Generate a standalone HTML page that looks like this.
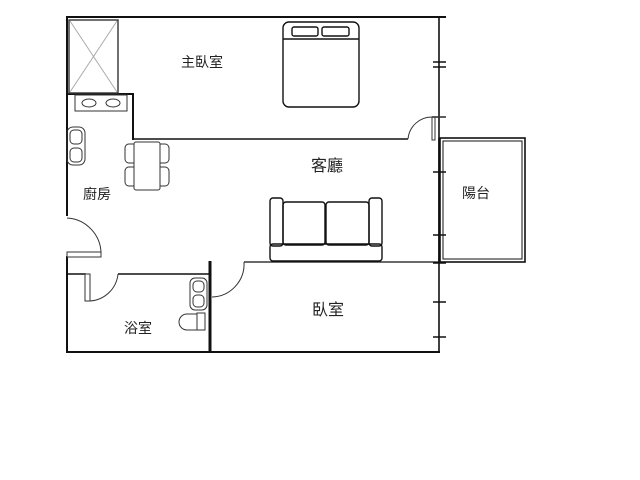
<!DOCTYPE html>
<html><head><meta charset="utf-8"><style>
html,body{margin:0;padding:0;background:#fff;width:640px;height:480px;overflow:hidden}
text{font-family:"Liberation Sans","Noto Sans CJK TC",sans-serif;fill:#222}
</style></head><body>
<svg width="640" height="480" viewBox="0 0 640 480" xmlns="http://www.w3.org/2000/svg">
<g fill="none" stroke="#111" stroke-width="2">
<!-- outer walls -->
<line x1="66" y1="17" x2="446" y2="17"/>
<line x1="67" y1="17" x2="67" y2="216"/>
<line x1="67" y1="256" x2="67" y2="353"/>
<line x1="66" y1="352" x2="440" y2="352"/>
<line x1="439" y1="17" x2="439" y2="352" stroke-width="1.6"/>
<line x1="439" y1="138" x2="439" y2="263" stroke-width="1.6"/>
<!-- master bedroom walls -->
<line x1="67" y1="94" x2="134" y2="94"/>
<line x1="133" y1="94" x2="133" y2="140"/>
<line x1="133" y1="139" x2="408" y2="139" stroke-width="1.4"/>
<!-- bathroom -->
<line x1="67" y1="274" x2="86" y2="274" stroke-width="1.4"/>
<line x1="118" y1="274" x2="210" y2="274" stroke-width="1.4"/>
<line x1="210" y1="261" x2="210" y2="352" stroke-width="3"/>
<line x1="244" y1="262" x2="439" y2="262" stroke-width="1.2"/>
<!-- balcony -->
<rect x="440" y="138" width="85" height="124" stroke-width="1.6"/>
<rect x="443" y="141" width="79" height="118" stroke-width="1"/>
</g>
<g fill="none" stroke="#333" stroke-width="1">
<!-- doors -->
<rect x="67" y="252" width="34" height="5" fill="#fff"/>
<path d="M101 255 A36 36 0 0 0 67 218"/>
<rect x="85" y="274" width="5" height="27" fill="#fff"/>
<path d="M90 301 A30 30 0 0 0 118 274"/>
<path d="M212 297 A33 33 0 0 0 244 262"/>
<rect x="432" y="117" width="3" height="23" fill="#fff"/>
<path d="M408 139 A24 24 0 0 1 432 117"/>
<line x1="432" y1="117" x2="446" y2="117" stroke-width="1.6"/>
<!-- ticks on right wall -->
<g stroke="#111" stroke-width="1.5">
<line x1="433" y1="62" x2="446" y2="62"/><line x1="433" y1="67" x2="446" y2="67"/>
<line x1="433" y1="172" x2="446" y2="172"/><line x1="433" y1="235" x2="446" y2="235"/>
<line x1="433" y1="263" x2="446" y2="263"/><line x1="433" y1="302" x2="446" y2="302"/>
<line x1="433" y1="337" x2="446" y2="337"/>
</g>
<!-- kitchen cupboard -->
<rect x="69" y="20" width="49" height="73" stroke-width="1.4"/>
<line x1="70" y1="21" x2="117" y2="92" stroke="#aaa"/>
<line x1="117" y1="21" x2="70" y2="92" stroke="#aaa"/>
<rect x="75" y="95" width="52" height="16"/>
<ellipse cx="89" cy="103" rx="7" ry="4"/><ellipse cx="113" cy="103" rx="7" ry="4"/>
<!-- kitchen sink -->
<rect x="67" y="127" width="18" height="38" rx="6"/>
<rect x="70" y="130" width="12" height="14" rx="4"/>
<rect x="70" y="148" width="12" height="14" rx="4"/>
<!-- table and chairs -->
<rect x="134" y="142" width="26" height="48" rx="2"/>
<path d="M134 144 h-5 a4 4 0 0 0 -4 4 v11 a4 4 0 0 0 4 4 h5"/>
<path d="M134 167 h-5 a4 4 0 0 0 -4 4 v11 a4 4 0 0 0 4 4 h5"/>
<path d="M160 144 h5 a4 4 0 0 1 4 4 v11 a4 4 0 0 1 -4 4 h-5"/>
<path d="M160 167 h5 a4 4 0 0 1 4 4 v11 a4 4 0 0 1 -4 4 h-5"/>
<!-- bed -->
<g stroke="#111" stroke-width="1.4">
<rect x="283" y="22" width="76" height="85" rx="6"/>
<line x1="283" y1="39" x2="359" y2="39"/>
<rect x="292" y="27" width="26" height="9" rx="2"/>
<rect x="322" y="27" width="27" height="9" rx="2"/>
<!-- sofa -->
<rect x="270" y="198" width="13" height="48" rx="3"/>
<rect x="369" y="198" width="13" height="48" rx="3"/>
<rect x="283" y="202" width="42" height="43" rx="3"/>
<rect x="326" y="202" width="43" height="43" rx="3"/>
<rect x="270" y="244" width="112" height="17" rx="3"/>
</g>
<!-- bathroom sink & toilet -->
<rect x="190" y="278" width="17" height="32" rx="5"/>
<rect x="193" y="281" width="11" height="11" rx="4"/>
<rect x="193" y="295" width="11" height="12" rx="4"/>
<rect x="197" y="313" width="8" height="17"/>
<path d="M197 314 h-10 a8 8 0 0 0 0 16 h10"/>
</g>
<text x="202" y="67" font-size="14" text-anchor="middle">主臥室</text>
<text x="327" y="171" font-size="16" text-anchor="middle">客廳</text>
<text x="97" y="199" font-size="14" text-anchor="middle">廚房</text>
<text x="476" y="198" font-size="14" text-anchor="middle">陽台</text>
<text x="138" y="333" font-size="14" text-anchor="middle">浴室</text>
<text x="328" y="315" font-size="16" text-anchor="middle">臥室</text>
</svg>
</body></html>
